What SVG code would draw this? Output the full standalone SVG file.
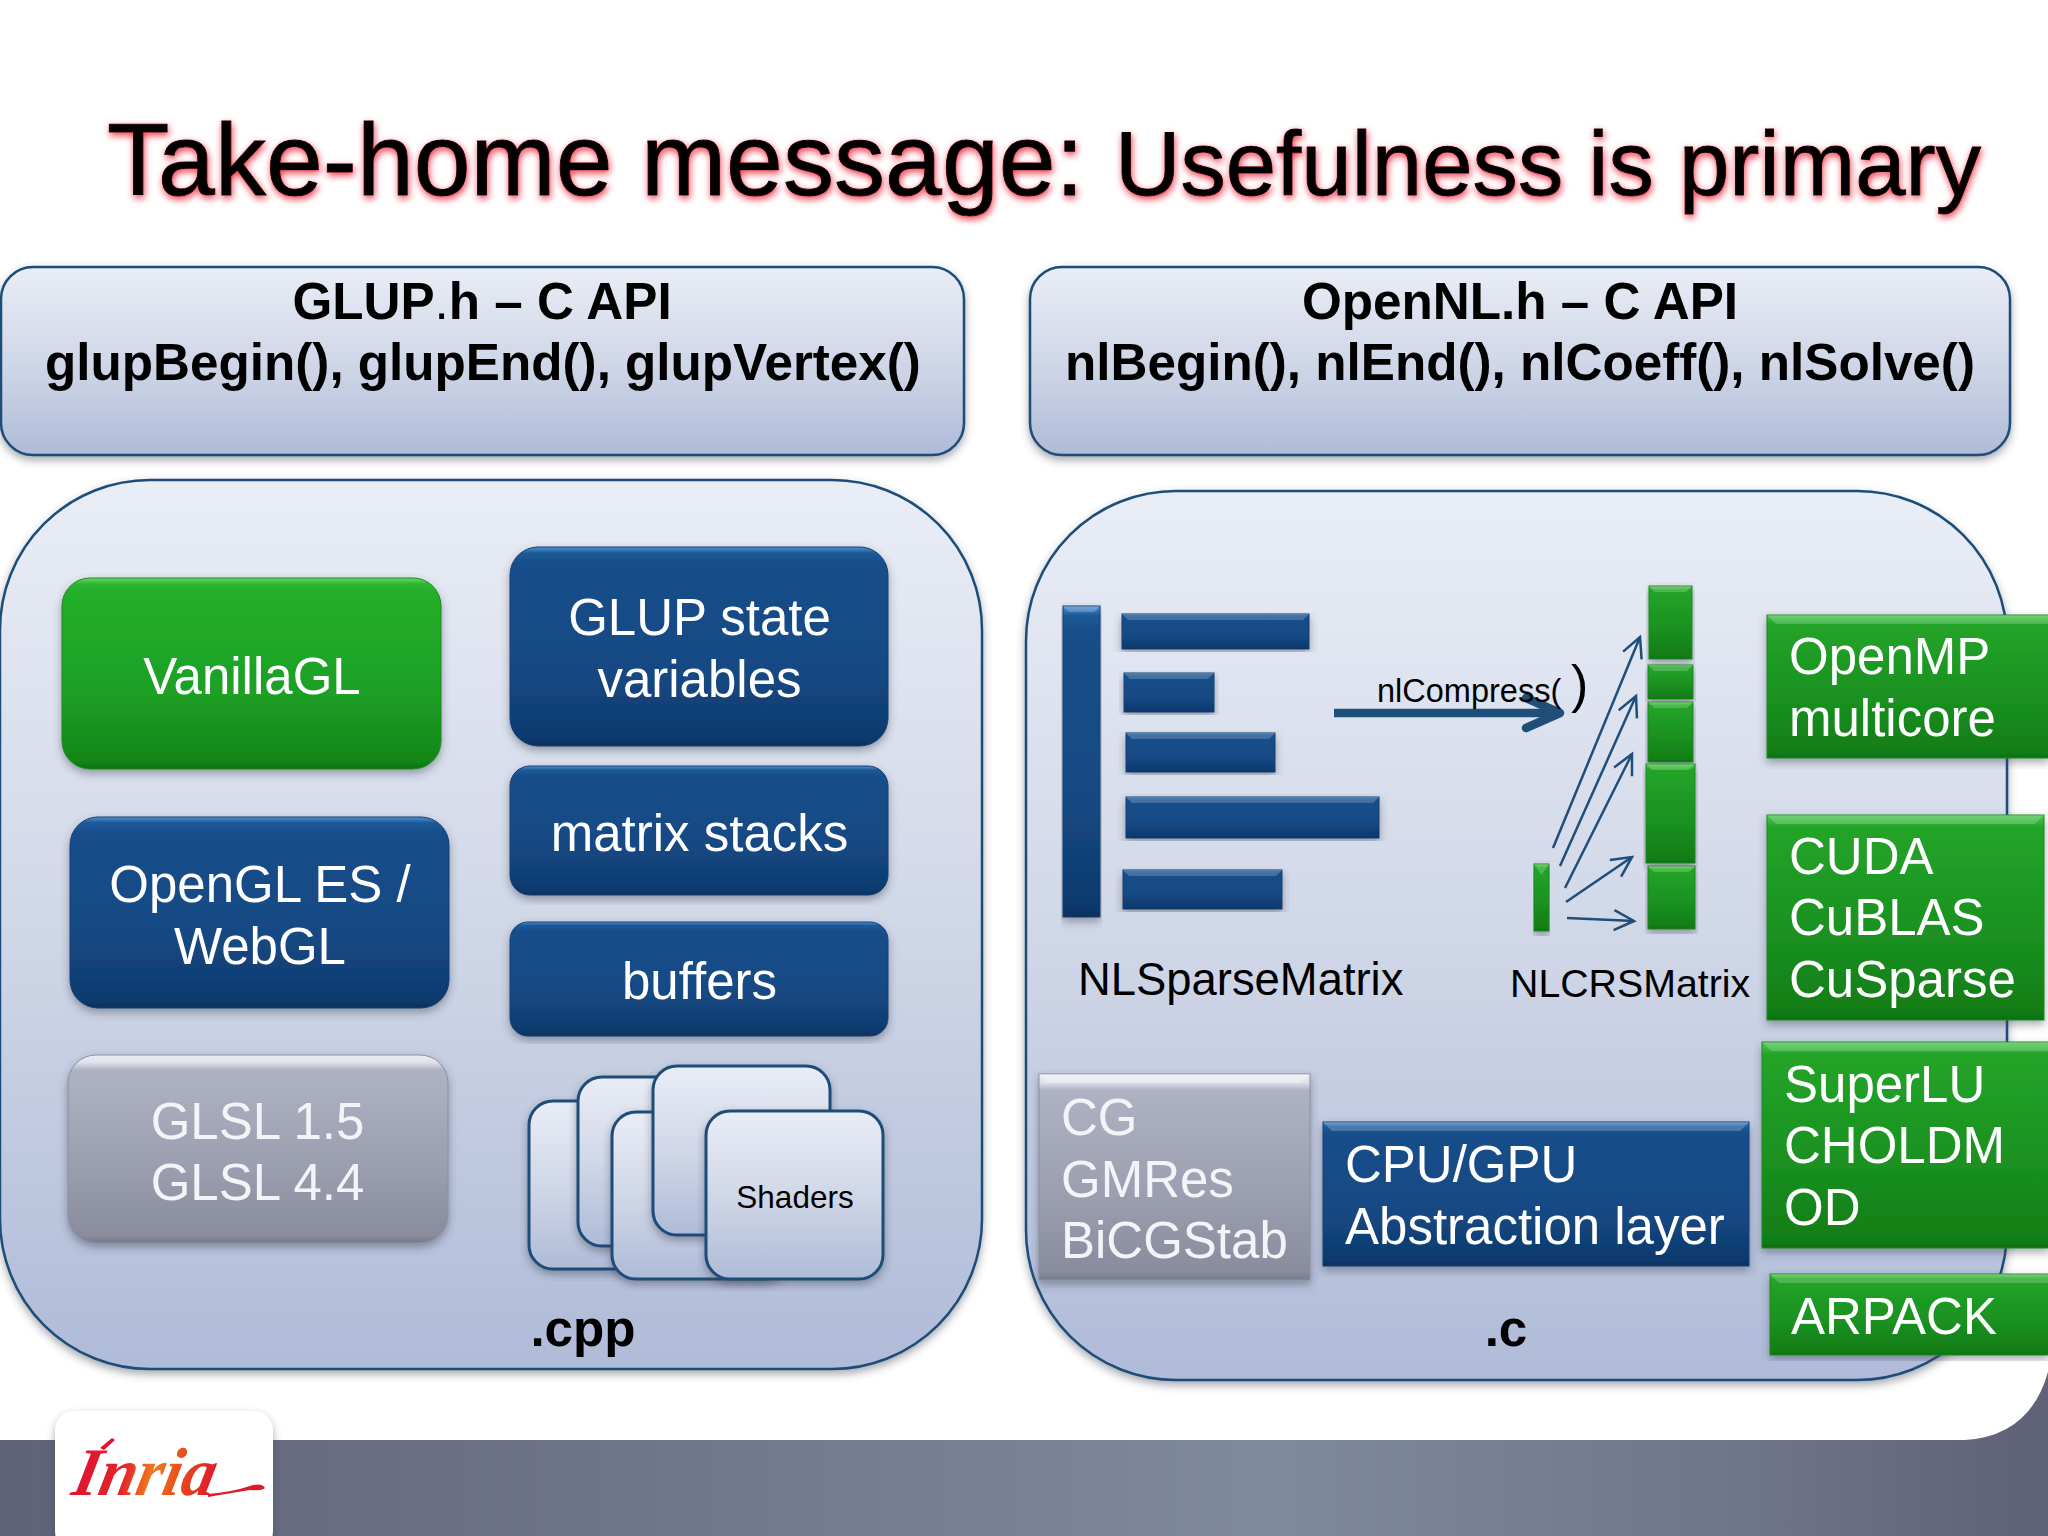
<svg xmlns="http://www.w3.org/2000/svg" width="2048" height="1536" viewBox="0 0 2048 1536">
<defs>
<linearGradient id="gPanel" x1="0" y1="0" x2="0" y2="1"><stop offset="0" stop-color="#e9edf6"/><stop offset="0.5" stop-color="#d0d7e7"/><stop offset="1" stop-color="#afbbd8"/></linearGradient>
<linearGradient id="gBlue" x1="0" y1="0" x2="0" y2="1"><stop offset="0" stop-color="#5492d2"/><stop offset="0.03" stop-color="#1d5a98"/><stop offset="0.08" stop-color="#174e8a"/><stop offset="0.6" stop-color="#144a84"/><stop offset="0.96" stop-color="#0f3a6e"/><stop offset="1" stop-color="#0b2f5c"/></linearGradient>
<linearGradient id="gGreen" x1="0" y1="0" x2="0" y2="1"><stop offset="0" stop-color="#66e066"/><stop offset="0.03" stop-color="#2fb532"/><stop offset="0.08" stop-color="#22ae28"/><stop offset="0.6" stop-color="#1ea025"/><stop offset="0.96" stop-color="#128518"/><stop offset="1" stop-color="#0e6f12"/></linearGradient>
<linearGradient id="gGreenSq" x1="0" y1="0" x2="0" y2="1"><stop offset="0" stop-color="#4cc94e"/><stop offset="0.06" stop-color="#23a428"/><stop offset="0.6" stop-color="#1a9020"/><stop offset="0.97" stop-color="#117c16"/><stop offset="1" stop-color="#0d6a10"/></linearGradient>
<linearGradient id="gGray" x1="0" y1="0" x2="0" y2="1"><stop offset="0" stop-color="#eceff5"/><stop offset="0.04" stop-color="#dfe2ea"/><stop offset="0.08" stop-color="#aeb2c2"/><stop offset="0.6" stop-color="#9a9eae"/><stop offset="0.96" stop-color="#888c9c"/><stop offset="1" stop-color="#767a8a"/></linearGradient>
<linearGradient id="gBand" x1="0" y1="0" x2="1" y2="0"><stop offset="0" stop-color="#5f6378"/><stop offset="0.3" stop-color="#6f7589"/><stop offset="0.62" stop-color="#7f8a9c"/><stop offset="0.85" stop-color="#6f758a"/><stop offset="1" stop-color="#5f6176"/></linearGradient>
<linearGradient id="gLogo" x1="0" y1="0" x2="1" y2="0"><stop offset="0" stop-color="#df142e"/><stop offset="0.35" stop-color="#e2242c"/><stop offset="0.55" stop-color="#f07a1c"/><stop offset="0.8" stop-color="#e8401f"/><stop offset="1" stop-color="#dd1a2c"/></linearGradient>
<filter id="shadow" x="-5%" y="-5%" width="110%" height="112%"><feDropShadow dx="0" dy="4" stdDeviation="4" flood-color="#3a4050" flood-opacity="0.45"/></filter>
<filter id="glow" x="-3%" y="-20%" width="106%" height="140%"><feGaussianBlur in="SourceAlpha" stdDeviation="3.5" result="b"/><feOffset in="b" dx="1" dy="3" result="o"/><feFlood flood-color="#e8182c" flood-opacity="0.85"/><feComposite in2="o" operator="in"/><feMerge><feMergeNode/><feMergeNode in="SourceGraphic"/></feMerge></filter>
<marker id="thin" markerUnits="userSpaceOnUse" markerWidth="30" markerHeight="30" refX="22" refY="12" orient="auto" viewBox="0 0 30 24"><path d="M2 2 L22 12 L2 22" fill="none" stroke="#1f4e79" stroke-width="2.5"/></marker>
<marker id="big" markerUnits="userSpaceOnUse" markerWidth="50" markerHeight="50" refX="39" refY="25" orient="auto" viewBox="0 0 50 50"><path d="M5 10 L39 25 L5 40" fill="none" stroke="#1f4e79" stroke-width="8.5" stroke-linejoin="round" stroke-linecap="round"/></marker>
</defs>
<style>
text{font-family:"Liberation Sans",Arial,sans-serif}
.panel{fill:url(#gPanel);stroke:#1f4e79;stroke-width:2.5;filter:url(#shadow)}
.card{fill:url(#gPanel);stroke:#1f4e79;stroke-width:3;filter:url(#shadow)}
.blue{fill:url(#gBlue);stroke:#123f72;stroke-width:1;filter:url(#shadow)}
.green{fill:url(#gGreen);stroke:#1a8a1c;stroke-width:1;filter:url(#shadow)}
.sq{fill:url(#gGreenSq);stroke:#1a8a1c;stroke-width:1;filter:url(#shadow)}
.gray{fill:url(#gGray);stroke:#8c90a0;stroke-width:1;filter:url(#shadow)}
.t{font-size:51px;fill:#fff}
.tg{font-size:51px;fill:#f2f4f8}
.m{text-anchor:middle}
.b{font-size:51.2px;font-weight:bold;fill:#000;text-anchor:middle}
.hl{fill:#fff;fill-opacity:.2}
.thin{fill:none;stroke:#1f4e79;stroke-width:2.5;marker-end:url(#thin)}
</style>
<rect width="2048" height="1536" fill="#fff"/>
<g id="band"><path d="M0 1440 H1965 Q2030 1436 2048 1372 V1536 H0 Z" fill="url(#gBand)"/></g>
<g id="logo"><rect x="55" y="1411" width="218" height="140" rx="20" fill="#fff" filter="url(#shadow)"/>
<text transform="translate(70 1495) skewX(-12)" x="0" y="0" font-size="68" font-style="italic" font-weight="bold" fill="url(#gLogo)" textLength="142" lengthAdjust="spacingAndGlyphs" style="font-family:'Liberation Serif',serif">Inria</text>
<path d="M208 1494 Q232 1492 250 1486 Q262 1482 265 1488 Q262 1491 250 1490 Q232 1493 208 1497 Z" fill="#df1a2e"/>
<path d="M100 1448 L112 1438 L115 1440 L104 1450 Z" fill="#df142e"/></g>
<g id="title" filter="url(#glow)" stroke="#000" stroke-width="0.9"><text x="107" y="195" font-size="102" fill="#000" textLength="977" lengthAdjust="spacingAndGlyphs">Take-home message:</text><text x="1115" y="195" font-size="90.5" fill="#000" textLength="866" lengthAdjust="spacingAndGlyphs">Usefulness is primary</text></g>

<g id="glup-api"><rect class="panel" x="1" y="267" width="963" height="188" rx="32"/><text class="b" x="482" y="319">GLUP<tspan font-weight="normal">.</tspan>h – C API</text><text class="b" x="483" y="380">glupBegin(), glupEnd(), glupVertex()</text></g>
<g id="opennl-api"><rect class="panel" x="1030" y="267" width="980" height="188" rx="32"/><text class="b" x="1520" y="319">OpenNL.h – C API</text><text class="b" x="1520" y="380">nlBegin(), nlEnd(), nlCoeff(), nlSolve()</text></g>

<g id="cpp-panel"><rect class="panel" x="0" y="480" width="982" height="889" rx="150"/><text class="b" x="583" y="1346">.cpp</text></g>
<g id="c-panel"><rect class="panel" x="1026" y="491" width="981" height="889" rx="150"/><text class="b" x="1506" y="1346">.c</text></g>

<g id="vanillagl"><rect class="green" x="62" y="578" width="379" height="191" rx="28"/><text class="t m" x="252" y="694">VanillaGL</text></g>
<g id="opengl-es"><rect class="blue" x="70" y="817" width="379" height="191" rx="28"/><text class="t m" x="260" y="902">OpenGL ES /</text><text class="t m" x="260" y="964">WebGL</text></g>
<g id="glsl"><rect class="gray" x="68" y="1055" width="380" height="188" rx="28"/><text class="tg m" x="257.500" y="1139">GLSL 1.5</text><text class="tg m" x="257.500" y="1200">GLSL 4.4</text></g>
<g id="glup-state"><rect class="blue" x="510" y="547" width="378" height="199" rx="28"/><text class="t m" x="699.500" y="635">GLUP state</text><text class="t m" x="699.500" y="697">variables</text></g>
<g id="matrix-stacks"><rect class="blue" x="510" y="766" width="378" height="129" rx="20"/><text class="t m" x="699.500" y="851">matrix stacks</text></g>
<g id="buffers"><rect class="blue" x="510" y="922" width="378" height="114" rx="18"/><text class="t m" x="699.500" y="999">buffers</text></g>

<g id="shaders">
<rect class="card" x="529" y="1101" width="176" height="168" rx="24"/>
<rect class="card" x="578" y="1077" width="176" height="169" rx="24"/>
<rect class="card" x="612" y="1112" width="176" height="167" rx="24"/>
<rect class="card" x="653" y="1066" width="177" height="169" rx="24"/>
<rect class="card" x="706" y="1111" width="177" height="168" rx="24"/>
<text x="795" y="1208" font-size="31.500" fill="#000" text-anchor="middle">Shaders</text></g>

<g id="nlsparsematrix">
<rect class="blue" x="1063" y="606" width="37" height="311"/><polygon class="hl" points="1063,606 1100,606 1094,612 1069,612"/>
<rect class="blue" x="1122" y="614" width="187" height="35"/><polygon class="hl" points="1122,614 1309,614 1303,620 1128,620"/>
<rect class="blue" x="1124" y="673" width="90" height="39"/><polygon class="hl" points="1124,673 1214,673 1208,679 1130,679"/>
<rect class="blue" x="1126" y="733" width="149" height="39"/><polygon class="hl" points="1126,733 1275,733 1269,739 1132,739"/>
<rect class="blue" x="1126" y="797" width="253" height="41"/><polygon class="hl" points="1126,797 1379,797 1373,803 1132,803"/>
<rect class="blue" x="1123" y="870" width="159" height="39"/><polygon class="hl" points="1123,870 1282,870 1276,876 1129,876"/>
<text x="1078" y="995" font-size="45.400" fill="#000">NLSparseMatrix</text></g>

<g id="nlcrsmatrix">
<rect class="sq" x="1649" y="586" width="43" height="73"/><polygon class="hl" points="1649,586 1692,586 1686,592 1655,592"/>
<rect class="sq" x="1648" y="665" width="45" height="34"/><polygon class="hl" points="1648,665 1693,665 1687,671 1654,671"/>
<rect class="sq" x="1648" y="702" width="45" height="60"/><polygon class="hl" points="1648,702 1693,702 1687,708 1654,708"/>
<rect class="sq" x="1646" y="764" width="49" height="99"/><polygon class="hl" points="1646,764 1695,764 1689,770 1652,770"/>
<rect class="sq" x="1648" y="866" width="47" height="63"/><polygon class="hl" points="1648,866 1695,866 1689,872 1654,872"/>
<rect class="sq" x="1534" y="864" width="15" height="67"/><polygon class="hl" points="1534,864 1549,864 1541.500,875"/>
<text x="1510" y="997" font-size="39.300" fill="#000">NLCRSMatrix</text></g>

<g id="connectors">
<line x1="1334" y1="713" x2="1560" y2="713" fill="none" stroke="#1f4e79" stroke-width="8.500" marker-end="url(#big)"/>
<line class="thin" x1="1553" y1="848" x2="1640" y2="637"/>
<line class="thin" x1="1560" y1="866" x2="1636" y2="696"/>
<line class="thin" x1="1565" y1="888" x2="1632" y2="754"/>
<line class="thin" x1="1566" y1="902" x2="1632" y2="857"/>
<line class="thin" x1="1567" y1="918" x2="1634" y2="921"/>
</g>
<g id="nlcompress-label"><text x="1377" y="702" font-size="32.500" fill="#000">nlCompress(</text><text x="1571" y="702" font-size="52" fill="#000">)</text></g>

<g id="openmp"><rect class="sq" x="1767" y="615" width="282" height="143"/><polygon class="hl" points="1767,615 2048,615 2048,624 1776,624"/><text class="t" x="1789" y="674">OpenMP</text><text class="t" x="1789" y="736">multicore</text></g>
<g id="cuda"><rect class="sq" x="1767" y="815" width="277" height="205"/><polygon class="hl" points="1767,815 2044,815 2035,824 1776,824"/><text class="t" x="1789" y="874">CUDA</text><text class="t" x="1789" y="935">CuBLAS</text><text class="t" x="1789" y="997">CuSparse</text></g>
<g id="superlu"><rect class="sq" x="1762" y="1042" width="287" height="206"/><polygon class="hl" points="1762,1042 2048,1042 2048,1051 1771,1051"/><text class="t" x="1784" y="1102">SuperLU</text><text class="t" x="1784" y="1163">CHOLDM</text><text class="t" x="1784" y="1225">OD</text></g>
<g id="arpack"><rect class="sq" x="1770" y="1274" width="279" height="81"/><polygon class="hl" points="1770,1274 2048,1274 2048,1283 1779,1283"/><text class="t" x="1791" y="1334">ARPACK</text></g>
<g id="krylov"><rect class="gray" x="1039" y="1074" width="271" height="206"/><polygon fill="#fff" fill-opacity=".3" points="1039,1074 1310,1074 1301,1083 1048,1083"/><text class="tg" x="1061" y="1135">CG</text><text class="tg" x="1061" y="1197">GMRes</text><text class="tg" x="1061" y="1258">BiCGStab</text></g>
<g id="abstraction"><rect class="blue" x="1323" y="1122" width="426" height="144"/><polygon class="hl" points="1323,1122 1749,1122 1740,1131 1332,1131"/><text class="t" x="1345" y="1182">CPU/GPU</text><text class="t" x="1345" y="1244">Abstraction layer</text></g>
</svg>
